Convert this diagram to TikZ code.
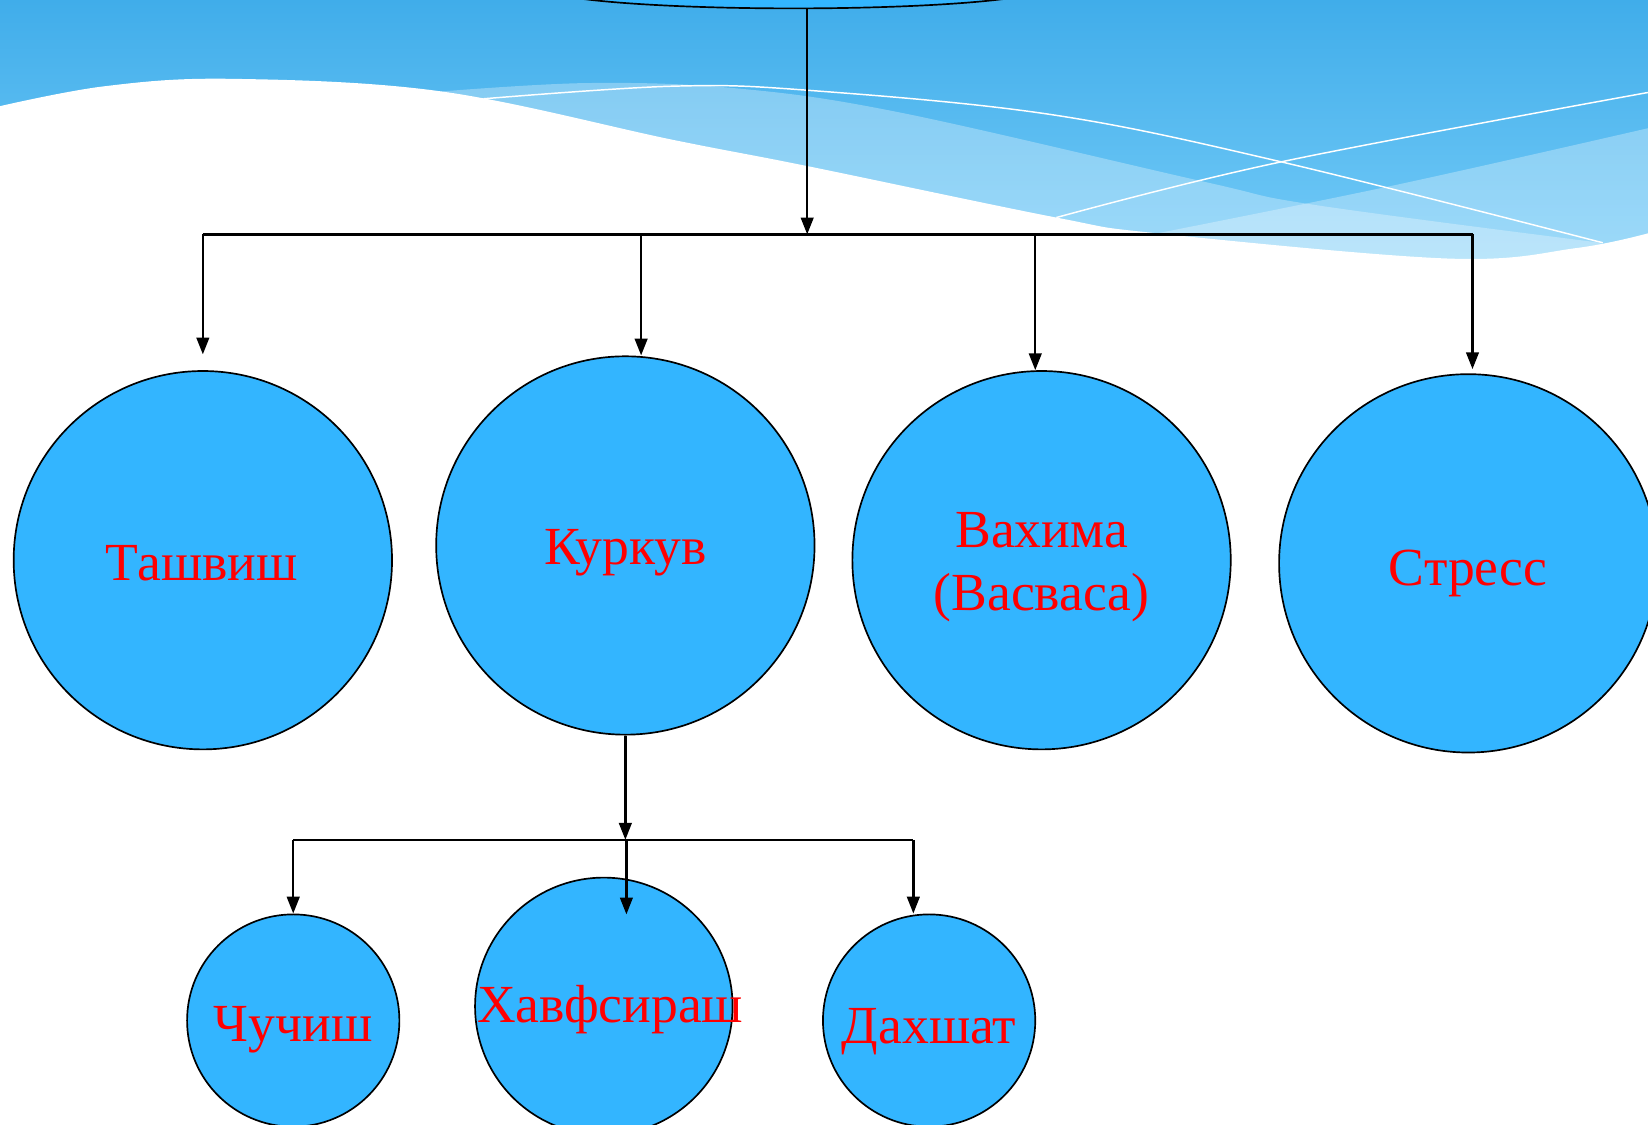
\documentclass[tikz,border=0pt]{standalone}
\usepackage{fontspec}
\setmainfont{Liberation Serif}
\usetikzlibrary{arrows.meta,shapes.geometric}
\definecolor{cfill}{HTML}{33B5FF}
\definecolor{bgtop}{HTML}{40ADEA}
\definecolor{bgbot}{HTML}{76CCF8}
\definecolor{txtred}{HTML}{FF0000}
\begin{document}
\begin{tikzpicture}[x=0.5pt,y=-0.5pt,
  circ/.style={circle, draw=black, line width=0.8pt, fill=cfill, inner sep=0pt},
  lbl/.style={text=txtred, font=\fontsize{25.5}{30}\selectfont, inner sep=0pt, align=center},
  conn/.style={line width=1.1pt, -{Triangle[length=8pt,width=6pt]}},
  busline/.style={line width=1.1pt},
  wline/.style={white, line width=0.7pt},
  band/.style={fill=white, fill opacity=0.3}]
\useasboundingbox (0,0) rectangle (1568,1070);
\clip (0,0) rectangle (1568,1070);
% background
\fill[top color=bgtop, bottom color=bgbot] (0,0) rectangle (1568,260);
\fill[band] plot[smooth, tension=0.6] coordinates {(420,87) (560,79) (700,84) (856,107) (1146,173) (1251,195) (1523,231)} -- (1523,300) -- (420,300) -- cycle;
\fill[band] plot[smooth, tension=0.6] coordinates {(1101,222) (1328,176) (1568,122)} -- (1568,300) -- (1101,300) -- cycle;
\draw[wline] plot[smooth, tension=0.6] coordinates {(460,94) (640,82) (770,86) (1000,109) (1219,154) (1525,231)};
\draw[wline] plot[smooth, tension=0.6] coordinates {(1005,207) (1219,154) (1568,88)};
\fill[white] plot[smooth, tension=0.6] coordinates {(0,101) (100,82) (220,75) (420,87) (640,133) (768,158) (1005,207) (1101,222) (1378,246) (1500,236) (1568,222)} -- (1568,1070) -- (0,1070) -- cycle;
% top node
\node[ellipse, draw=black, line width=0.8pt, fill=cfill, inner sep=0pt, minimum width=240pt, minimum height=20pt] (top) at (755,-12) {};
% circles
\node[circ, minimum size=180pt] (tash) at (193,533) {};
\node[circ, minimum size=180pt] (kurk) at (595,519) {};
\node[circ, minimum size=180pt] (vah) at (991,533) {};
\node[circ, minimum size=180pt] (stress) at (1397,536) {};
\node[circ, minimum size=101pt] (chu) at (279,971) {};
\node[circ, minimum size=122.5pt] (xav) at (574.5,957.5) {};
\node[circ, minimum size=101pt] (dax) at (884,971) {};
% labels
\node[lbl, anchor=base] (tashT) at (192,552) {Ташвиш};
\node[lbl, anchor=base] (kurkT) at (595,537) {Куркув};
\node[lbl] (vahT) at (991,540) {Вахима\\(Васваса)};
\node[lbl, anchor=base] (stressT) at (1397,557) {Стресс};
\node[lbl, anchor=base] (chuT) at (279,991) {Чучиш};
\node[lbl, anchor=base] (xavT) at (580.5,973) {Хавфсираш};
\node[lbl, anchor=base] (daxT) at (884,993) {Дахшат};
% upper connectors
\coordinate (j0) at (768,223);
\coordinate (jL) at (193,223);
\coordinate (j2) at (610,223);
\coordinate (j3) at (985,223);
\coordinate (jR) at (1401,223);
\draw[conn] (top.south -| j0) -- (j0);
\draw[busline] (jL) -- (jR);
\draw[conn, shorten >=7.5pt] (jL) -- (tash.north);
\draw[conn] (j2) -- (j2 |- kurk.north);
\draw[conn] (j3) -- (j3 |- vah.north);
\draw[conn, shorten >=2pt] (jR) -- (jR |- stress.north);
% lower connectors
\coordinate (k0) at (595,799);
\coordinate (kL) at (279,799);
\coordinate (k2) at (596,799);
\coordinate (k2e) at (596,870);
\coordinate (kR) at (869,799);
\draw[conn] (kurk.south) -- (k0);
\draw[busline] (kL) -- (kR);
\draw[conn] (kL) -- (chu.north);
\draw[conn] (k2) -- (k2e);
\draw[conn] (kR) -- (kR |- dax.north);
\end{tikzpicture}
\end{document}
